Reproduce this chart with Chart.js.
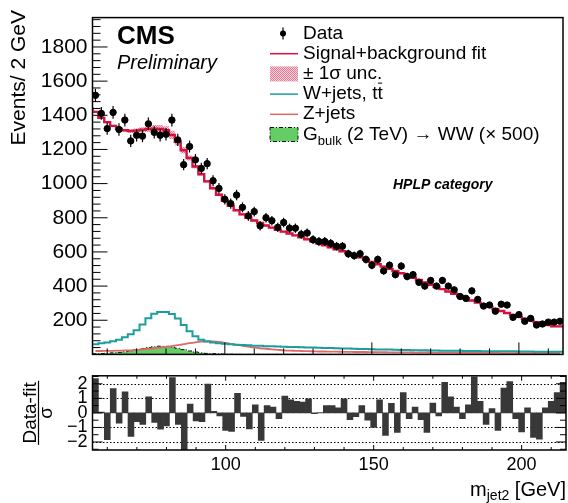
<!DOCTYPE html>
<html>
<head>
<meta charset="utf-8">
<script src="https://cdn.jsdelivr.net/npm/chart.js@4.4.1/dist/chart.umd.min.js"></script>
<style>
  html, body { margin: 0; padding: 0; background: #fff; }
  #wrap { position: relative; width: 568px; height: 503px; }
  canvas { position: absolute; left: 0; }
</style>
</head>
<body>
<div id="wrap">
  <canvas id="grafico-massa" width="568" height="372" style="top:0"></canvas>
  <canvas id="grafico-pull" width="568" height="143" style="top:360px"></canvas>
</div>
<script>
// centros dos bins de m_jet2 (GeV), largura 2 GeV
const binWidth = 2;
const binCenters = [56,58,60,62,64,66,68,70,72,74,76,78,80,82,84,86,88,90,92,94,
  96,98,100,102,104,106,108,110,112,114,116,118,120,122,124,126,128,130,132,134,
  136,138,140,142,144,146,148,150,152,154,156,158,160,162,164,166,168,170,172,174,
  176,178,180,182,184,186,188,190,192,194,196,198,200,202,204,206,208,210,212,214];

// eventos observados
const dataVals = [1517,1411,1322,1417,1317,1372,1250,1283,1278,1350,
  1300,1283,1289,1372,1256,1111,1217,1139,1089,1117,
  1017,972,908,883,933,861,811,836,753,800,
  783,744,772,739,739,703,711,672,661,661,
  650,633,633,589,578,589,556,522,556,489,
  522,467,517,456,467,422,400,433,400,433,
  400,378,339,328,372,322,283,289,253,294,
  289,217,233,194,211,172,178,189,189,194];

// ajuste sinal+fundo
const fitVals = [1445,1420,1385,1360,1338,1322,1312,1308,1310,1315,
  1320,1322,1320,1312,1285,1245,1195,1150,1100,1055,
  1013,973,935,900,870,844,820,800,784,769,
  755,742,730,719,708,697,686,674,662,650,
  639,627,616,604,592,580,568,555,542,528,
  514,501,488,475,462,449,436,422,408,395,
  382,368,355,342,329,316,303,290,278,266,
  254,242,231,220,209,199,189,180,172,164];

// incerteza +-1 sigma do ajuste
const fitUnc = [6,6,6,6,6,7,8,10,12,15,
  18,21,23,24,24,22,19,15,11,8,
  6,6,6,6,6,6,6,6,6,6,
  5,5,5,5,5,5,5,5,5,5,
  5,5,5,5,5,5,5,5,5,5,
  5,5,5,5,5,5,5,5,5,5,
  5,5,5,5,5,5,5,5,5,5,
  5,5,5,5,5,5,5,5,5,5];

// W+jets, ttbar
const wVals = [55,60,65,70,77,86,100,118,142,175,
  212,238,248,248,236,210,172,135,106,86,
  75,69,65,62,59,57,55,53,51,50,
  48,47,46,45,44,43,42,41,40,39,
  38,37,36,35,34,33,32,31,30,29,
  28,28,27,26,26,25,24,24,23,23,
  22,22,21,21,20,20,20,19,19,19,
  18,18,18,17,17,17,16,16,16,15];

// Z+jets
const zVals = [20,20,21,21,22,23,24,26,29,32,
  36,40,44,49,54,60,66,71,75,77,
  76,73,68,62,56,50,45,40,36,33,
  30,27,24,22,21,20,19,18,17,17,
  16,16,15,15,14,14,14,13,13,13,
  12,12,12,12,11,11,11,11,10,10,
  10,10,10,9,9,9,9,9,9,8,
  8,8,8,8,8,8,7,7,7,7];

// sinal G_bulk (2 TeV) x 500
const sigVals = [3,4,5,7,9,12,16,21,27,33,
  40,45,48,47,43,36,28,20,14,9,
  6,4,3,2,1,1,0,0,0,0,
  0,0,0,0,0,0,0,0,0,0,
  0,0,0,0,0,0,0,0,0,0,
  0,0,0,0,0,0,0,0,0,0,
  0,0,0,0,0,0,0,0,0,0,
  0,0,0,0,0,0,0,0,0,0];

// (dados-ajuste)/sigma
const pullVals = [2.36,0.05,-1.84,1.68,-0.71,1.45,-1.62,-0.6,-0.8,1.11,
  -0.65,-1.11,-0.9,2.42,-0.8,-2.8,0.6,-0.55,-0.6,1.98,
  0.1,-0.2,-1.2,-1.27,1.35,-0.25,-1.1,0.55,-1.9,0.5,
  0.4,-0.4,1.15,0.9,0.8,0.75,0.97,-0.05,0.02,0.5,
  0.5,0.35,0.97,-0.46,-0.26,0.5,-0.5,-1.0,0.9,-1.55,
  0.65,-1.35,1.4,-0.4,0.4,-0.46,-1.35,0.67,-0.2,2.1,
  1.1,0.4,-0.4,0.55,2.48,0.8,-0.8,0.3,-1.2,1.7,
  2.15,-0.4,-1.3,0.35,-1.68,-1.8,0.35,0.8,1.4,2.1];

const xTicks = [100, 150, 200];
const yTicksTopo = [200, 400, 600, 800, 1000, 1200, 1400, 1600, 1800];
const yTicksPull = [-2, -1, 0, 1, 2];

const fam = '"Liberation Sans", Arial, Helvetica, sans-serif';
const corFit = '#d8103e';
const corW = '#1a9e9e';
const corZ = '#e06868';
const corSig = '#66cc66';

// padrao rosado da banda de incerteza
const padrao = (() => {
  const c = document.createElement('canvas');
  c.width = 2; c.height = 2;
  const g = c.getContext('2d');
  g.fillStyle = '#f6cfd8'; g.fillRect(0, 0, 2, 2);
  g.fillStyle = '#e27d96'; g.fillRect(0, 0, 1, 1); g.fillRect(1, 1, 1, 1);
  return g.createPattern(c, 'repeat');
})();

// histograma em degraus: pontos nas bordas dos bins
function histo(vals) {
  const pts = vals.map((v, i) => ({ x: binCenters[i] - binWidth / 2, y: v }));
  pts.push({ x: binCenters[vals.length - 1] + binWidth / 2, y: vals[vals.length - 1] });
  return pts;
}

function linha(ctx, x1, y1, x2, y2) {
  ctx.beginPath(); ctx.moveTo(x1, y1); ctx.lineTo(x2, y2); ctx.stroke();
}

//    PAINEL PRINCIPAL
const molduraTopo = {
  id: 'molduraTopo',
  afterDatasetsDraw(chart) {
    const ctx = chart.ctx, x = chart.scales.x, y = chart.scales.y;
    ctx.save();
    ctx.strokeStyle = '#000'; ctx.lineWidth = 1.2;
    dataVals.forEach((v, i) => {
      const px = x.getPixelForValue(binCenters[i]);
      const e = Math.sqrt(v);
      linha(ctx, px, y.getPixelForValue(v + e), px, y.getPixelForValue(v - e));
    });
    ctx.restore();
  },
  afterDraw(chart) {
    const ctx = chart.ctx, a = chart.chartArea, x = chart.scales.x, y = chart.scales.y;
    ctx.save();
    ctx.strokeStyle = '#000'; ctx.lineWidth = 1;
    for (let v = 60; v <= 210; v += 10) {
      const px = x.getPixelForValue(v);
      linha(ctx, px, a.bottom, px, a.bottom - (v % 50 === 0 ? 12 : 6));
    }
    for (let v = 40; v <= 1960; v += 40) {
      const py = y.getPixelForValue(v);
      linha(ctx, a.left, py, a.left + (v % 200 === 0 ? 15 : 8), py);
    }
    ctx.lineWidth = 1.5;
    ctx.strokeRect(a.left, a.top, a.right - a.left, a.bottom - a.top);

    // textos
    ctx.fillStyle = '#000';
    ctx.textBaseline = 'alphabetic';
    ctx.textAlign = 'left';
    ctx.font = `bold 26px ${fam}`;
    ctx.fillText('CMS', 117, 43.5);
    ctx.font = `italic 20px ${fam}`;
    ctx.fillText('Preliminary', 117, 69);
    ctx.font = `bold italic 14px ${fam}`;
    ctx.fillText('HPLP category', 393, 189);

    // titulo do eixo y
    ctx.save();
    ctx.translate(25, 10);
    ctx.rotate(-Math.PI / 2);
    ctx.textAlign = 'right';
    ctx.font = `21px ${fam}`;
    ctx.fillText('Events/ 2 GeV', 0, 0);
    ctx.restore();

    // legenda
    const tx = 303, s0 = 270, s1 = 298;
    const base = [38.5, 58.7, 78.9, 99.1, 119.3, 139.5];
    ctx.font = `19px ${fam}`;
    // Data
    let cy = base[0] - 5;
    ctx.lineWidth = 1.2;
    linha(ctx, 283, cy - 6, 283, cy + 6);
    ctx.beginPath(); ctx.arc(283, cy, 3, 0, Math.PI * 2); ctx.fill();
    ctx.fillText('Data', tx, base[0]);
    // fit
    cy = base[1] - 5;
    ctx.strokeStyle = corFit; ctx.lineWidth = 1.5;
    linha(ctx, s0, cy, s1, cy);
    ctx.fillText('Signal+background fit', tx, base[1]);
    // unc
    cy = base[2] - 5;
    ctx.fillStyle = padrao;
    ctx.fillRect(s0, cy - 7.5, s1 - s0, 15);
    ctx.fillStyle = '#000';
    ctx.fillText('\u00b1 1\u03c3 unc.', tx, base[2]);
    // W+jets
    cy = base[3] - 5;
    ctx.strokeStyle = corW; ctx.lineWidth = 1.5;
    linha(ctx, s0, cy, s1, cy);
    const tW = 'W+jets, tt';
    ctx.fillText(tW, tx, base[3]);
    const wt = ctx.measureText(tW).width, wt1 = ctx.measureText('t').width;
    ctx.strokeStyle = '#000'; ctx.lineWidth = 1;
    linha(ctx, tx + wt - wt1 + 0.5, base[3] - 16, tx + wt - 0.5, base[3] - 16);
    // Z+jets
    cy = base[4] - 5;
    ctx.strokeStyle = corZ; ctx.lineWidth = 1.5;
    linha(ctx, s0, cy, s1, cy);
    ctx.fillText('Z+jets', tx, base[4]);
    // sinal
    cy = base[5] - 5;
    ctx.fillStyle = corSig;
    ctx.fillRect(s0, cy - 7, s1 - s0, 14);
    ctx.strokeStyle = '#111'; ctx.lineWidth = 1; ctx.setLineDash([4, 2, 1, 2]);
    ctx.strokeRect(s0, cy - 7, s1 - s0, 14);
    ctx.setLineDash([]);
    ctx.fillStyle = '#000';
    ctx.fillText('G', tx, base[5]);
    let px = tx + ctx.measureText('G').width;
    ctx.font = `13px ${fam}`;
    ctx.fillText('bulk', px, base[5] + 5);
    px += ctx.measureText('bulk').width;
    ctx.font = `19px ${fam}`;
    ctx.fillText(' (2 TeV) \u2192 WW (\u00d7 500)', px, base[5]);
    ctx.restore();
  }
};

const ctxMassa = document.getElementById('grafico-massa');
new Chart(ctxMassa, {
  type: 'line',
  data: {
    datasets: [
      {
        label: 'Data',
        type: 'scatter',
        data: binCenters.map((c, i) => ({ x: c, y: dataVals[i] })),
        backgroundColor: '#000',
        borderColor: '#000',
        pointRadius: 3.2,
        showLine: false,
        order: 0
      },
      {
        label: 'Signal+background fit',
        data: histo(fitVals),
        stepped: 'after',
        borderColor: corFit,
        borderWidth: 2.4,
        pointRadius: 0,
        fill: false,
        order: 1
      },
      {
        label: 'unc+',
        data: histo(fitVals.map((v, i) => v + fitUnc[i])),
        stepped: 'after',
        borderWidth: 0,
        borderColor: 'rgba(0,0,0,0)',
        pointRadius: 0,
        backgroundColor: padrao,
        fill: '+1',
        order: 2
      },
      {
        label: 'unc-',
        data: histo(fitVals.map((v, i) => v - fitUnc[i])),
        stepped: 'after',
        borderWidth: 0,
        borderColor: 'rgba(0,0,0,0)',
        pointRadius: 0,
        fill: false,
        order: 2
      },
      {
        label: 'W+jets, tt',
        data: histo(wVals),
        stepped: 'after',
        borderColor: corW,
        borderWidth: 2,
        pointRadius: 0,
        fill: false,
        order: 3
      },
      {
        label: 'Z+jets',
        data: binCenters.map((c, i) => ({ x: c, y: zVals[i] })),
        borderColor: corZ,
        borderWidth: 1.8,
        pointRadius: 0,
        tension: 0.4,
        fill: false,
        order: 4
      },
      {
        label: 'G_bulk',
        data: histo(sigVals),
        stepped: 'after',
        borderColor: '#111',
        borderWidth: 1,
        borderDash: [4, 2, 1, 2],
        backgroundColor: corSig,
        pointRadius: 0,
        fill: 'origin',
        order: 5
      }
    ]
  },
  options: {
    responsive: false,
    animation: false,
    layout: { padding: { top: 6, right: 2, left: 0, bottom: 0 } },
    plugins: { legend: { display: false }, tooltip: { enabled: false } },
    scales: {
      x: {
        type: 'linear', min: 55, max: 215,
        grid: { display: false, drawTicks: false },
        border: { display: false },
        ticks: { display: false },
        afterFit: s => { s.height = 11; }
      },
      y: {
        min: 0, max: 1972,
        grid: { display: false, drawTicks: false },
        border: { display: false },
        afterBuildTicks: s => { s.ticks = yTicksTopo.map(v => ({ value: v })); },
        ticks: {
          padding: 5, color: '#000', autoSkip: false, font: { family: fam, size: 21 },
          callback: v => String(v)
        },
        afterFit: s => { s.width = 92.5; }
      }
    }
  },
  plugins: [molduraTopo]
});

//    PAINEL DE PULLS
const molduraPull = {
  id: 'molduraPull',
  beforeDatasetsDraw(chart) {
    const ctx = chart.ctx, a = chart.chartArea, y = chart.scales.y;
    ctx.save();
    ctx.strokeStyle = '#000'; ctx.lineWidth = 1; ctx.setLineDash([1.5, 2]);
    [-2, -1, 1, 2].forEach(v => {
      const py = Math.round(y.getPixelForValue(v)) + 0.5;
      linha(ctx, a.left, py, a.right, py);
    });
    ctx.restore();
  },
  afterDraw(chart) {
    const ctx = chart.ctx, a = chart.chartArea, x = chart.scales.x, y = chart.scales.y;
    ctx.save();
    ctx.strokeStyle = '#000'; ctx.lineWidth = 1;
    for (let v = 60; v <= 210; v += 10) {
      const px = x.getPixelForValue(v);
      const L = v % 50 === 0 ? 5 : 3;
      linha(ctx, px, a.bottom, px, a.bottom - L);
      linha(ctx, px, a.top, px, a.top + L);
    }
    for (let v = -2.5; v <= 2.5; v += 0.5) {
      const py = y.getPixelForValue(v);
      const L = Number.isInteger(v) ? 10 : 6;
      linha(ctx, a.left, py, a.left + L, py);
      linha(ctx, a.right, py, a.right - L, py);
    }
    ctx.lineWidth = 1.5;
    ctx.strokeRect(a.left, a.top, a.right - a.left, a.bottom - a.top);

    ctx.fillStyle = '#000';
    // titulo y: (Data-fit)/sigma
    ctx.save();
    ctx.translate(36, (a.top + a.bottom) / 2);
    ctx.rotate(-Math.PI / 2);
    ctx.textAlign = 'center';
    ctx.textBaseline = 'alphabetic';
    ctx.font = `19px ${fam}`;
    ctx.fillText('Data-fit', 0, 0);
    ctx.lineWidth = 1.2;
    linha(ctx, -32, 2.5, 32, 2.5);
    ctx.fillText('\u03c3', 0, 16);
    ctx.restore();

    // titulo x: m_jet2 [GeV]
    const bl = 136;
    ctx.textAlign = 'left';
    ctx.textBaseline = 'alphabetic';
    ctx.font = `20px ${fam}`;
    const w1 = ctx.measureText('m').width, w3 = ctx.measureText(' [GeV]').width;
    ctx.font = `14px ${fam}`;
    const w2 = ctx.measureText('jet2').width;
    let px = 566 - (w1 + w2 + w3);
    ctx.font = `20px ${fam}`;
    ctx.fillText('m', px, bl);
    px += w1;
    ctx.font = `14px ${fam}`;
    ctx.fillText('jet2', px, bl + 4);
    px += w2;
    ctx.font = `20px ${fam}`;
    ctx.fillText(' [GeV]', px, bl);
    ctx.restore();
  }
};

const ctxPull = document.getElementById('grafico-pull');
new Chart(ctxPull, {
  type: 'bar',
  data: {
    datasets: [{
      label: 'Pull',
      data: binCenters.map((c, i) => ({ x: c, y: pullVals[i] })),
      backgroundColor: '#383838',
      borderWidth: 0,
      barPercentage: 1,
      categoryPercentage: 1
    }]
  },
  options: {
    responsive: false,
    animation: false,
    layout: { padding: { top: 6, right: 2, left: 0, bottom: 0 } },
    plugins: { legend: { display: false }, tooltip: { enabled: false } },
    scales: {
      x: {
        type: 'linear', min: 55, max: 215, offset: false,
        grid: { display: false, drawTicks: false, offset: false },
        border: { display: false },
        afterBuildTicks: s => { s.ticks = xTicks.map(v => ({ value: v })); },
        ticks: { padding: 4, color: '#000', maxRotation: 0, autoSkip: false, font: { family: fam, size: 18 } },
        afterFit: s => { s.height = 53; }
      },
      y: {
        min: -2.55, max: 2.55,
        grid: { display: false, drawTicks: false },
        border: { display: false },
        afterBuildTicks: s => { s.ticks = yTicksPull.map(v => ({ value: v })); },
        ticks: {
          padding: 5, color: '#000', autoSkip: false, font: { family: fam, size: 18 },
          callback: v => (v < 0 ? '\u2212' + Math.abs(v) : String(v))
        },
        afterFit: s => { s.width = 92.5; }
      }
    }
  },
  plugins: [molduraPull]
});
</script>
</body>
</html>
